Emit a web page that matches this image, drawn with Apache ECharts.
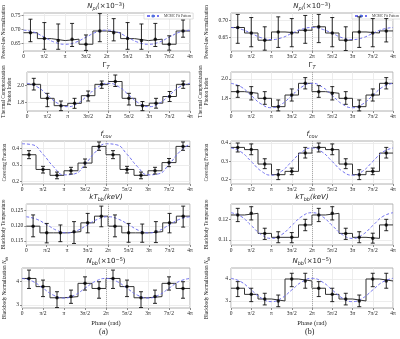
<!DOCTYPE html>
<html>
<head>
<meta charset="utf-8">
<script src="https://cdn.jsdelivr.net/npm/echarts@6/dist/echarts.min.js"></script>
<style>
  html, body { margin: 0; padding: 0; background: #fff; }
  #chart { width: 400px; height: 339px; }
</style>
</head>
<body>
<div id="chart"></div>
<script>
// phase axis is in units of pi: 0 .. 4
const phaseLabels = ['0', 'π/2', 'π', '3π/2', '2π', '5π/2', '3π', '7π/2', '4π']
// 6 phase bins per cycle, folded twice
const binEdges = [0, 1, 2, 3, 4, 5, 6, 7, 8, 9, 10, 11, 12].map(k => k / 3)
const binCenters = [1, 3, 5, 7, 9, 11, 13, 15, 17, 19, 21, 23].map(k => k / 6)
const fitPhase = [0, 1, 2, 3, 4, 5, 6, 7, 8, 9, 10, 11, 12, 13, 14, 15, 16].map(k => k / 4)

// ---- (a) ----
const aNplVal = [0.688, 0.667, 0.660, 0.665, 0.647, 0.694, 0.688, 0.667, 0.660, 0.665, 0.647, 0.694]
const aNplLo = [0.656, 0.629, 0.629, 0.639, 0.625, 0.656, 0.659, 0.629, 0.629, 0.639, 0.626, 0.672]
const aNplHi = [0.736, 0.724, 0.719, 0.721, 0.680, 0.756, 0.738, 0.724, 0.719, 0.721, 0.677, 0.733]
const aNplFit = [0.697, 0.690, 0.672, 0.654, 0.647, 0.654, 0.672, 0.690, 0.697, 0.690, 0.672, 0.654, 0.647, 0.654, 0.672, 0.690, 0.697]
const aNplTicks = [0.65, 0.70, 0.75]

const aGamVal = [2.016, 1.848, 1.760, 1.788, 1.880, 2.016, 2.050, 1.848, 1.760, 1.790, 1.870, 2.016]
const aGamLo = [1.948, 1.748, 1.700, 1.728, 1.816, 1.968, 1.990, 1.768, 1.700, 1.730, 1.810, 1.968]
const aGamHi = [2.088, 1.908, 1.816, 1.848, 1.936, 2.056, 2.128, 1.908, 1.810, 1.848, 1.930, 2.056]
const aGamFit = [2.028, 1.987, 1.888, 1.789, 1.748, 1.789, 1.888, 1.987, 2.028, 1.987, 1.888, 1.789, 1.748, 1.789, 1.888, 1.987, 2.028]
const aGamTicks = [1.8, 2.0]

const aCovVal = [0.363, 0.273, 0.237, 0.265, 0.312, 0.414, 0.363, 0.273, 0.237, 0.265, 0.315, 0.414]
const aCovLo = [0.339, 0.251, 0.216, 0.245, 0.286, 0.390, 0.339, 0.251, 0.216, 0.245, 0.290, 0.390]
const aCovHi = [0.388, 0.292, 0.257, 0.286, 0.337, 0.441, 0.388, 0.292, 0.257, 0.286, 0.340, 0.441]
const aCovFit = [0.430, 0.424, 0.366, 0.290, 0.240, 0.246, 0.304, 0.380, 0.430, 0.424, 0.366, 0.290, 0.240, 0.246, 0.304, 0.380, 0.430]
const aCovTicks = [0.2, 0.3, 0.4]

const aKtVal = [0.1199, 0.1177, 0.1177, 0.1181, 0.1210, 0.1232, 0.1199, 0.1177, 0.1177, 0.1181, 0.1210, 0.1232]
const aKtLo = [0.1164, 0.1144, 0.1148, 0.1142, 0.1177, 0.1197, 0.1164, 0.1146, 0.1146, 0.1145, 0.1177, 0.1196]
const aKtHi = [0.1236, 0.1208, 0.1203, 0.1214, 0.1241, 0.1265, 0.1236, 0.1208, 0.1206, 0.1214, 0.1241, 0.1265]
const aKtFit = [0.1230, 0.1222, 0.1204, 0.1185, 0.1177, 0.1185, 0.1204, 0.1222, 0.1230, 0.1222, 0.1204, 0.1185, 0.1177, 0.1185, 0.1204, 0.1222, 0.1230]
const aKtTicks = [0.115, 0.120, 0.125]

const aNbbVal = [4.14, 3.79, 3.31, 3.36, 3.93, 3.71, 4.14, 3.79, 3.31, 3.36, 3.93, 3.71]
const aNbbLo = [3.71, 3.36, 2.89, 3.07, 3.64, 3.29, 3.71, 3.36, 2.89, 3.07, 3.64, 3.29]
const aNbbHi = [4.50, 4.07, 3.57, 3.64, 4.21, 4.00, 4.50, 4.07, 3.57, 3.64, 4.21, 4.00]
const aNbbFit = [4.14, 4.02, 3.72, 3.42, 3.30, 3.42, 3.72, 4.02, 4.14, 4.02, 3.72, 3.42, 3.30, 3.42, 3.72, 4.02, 4.14]
const aNbbTicks = [3, 4]

// ---- (b) ----
const bNplVal = [0.679, 0.663, 0.642, 0.666, 0.663, 0.671, 0.681, 0.663, 0.642, 0.666, 0.663, 0.669]
const bNplLo = [0.633, 0.623, 0.613, 0.621, 0.623, 0.633, 0.635, 0.623, 0.612, 0.621, 0.623, 0.637]
const bNplHi = [0.717, 0.708, 0.681, 0.710, 0.705, 0.714, 0.717, 0.708, 0.681, 0.710, 0.705, 0.705]
const bNplFit = [0.679, 0.674, 0.662, 0.649, 0.644, 0.649, 0.662, 0.674, 0.679, 0.674, 0.662, 0.649, 0.644, 0.649, 0.662, 0.674, 0.679]
const bNplTicks = [0.65, 0.70]

const bGamVal = [1.869, 1.852, 1.800, 1.714, 1.834, 1.955, 1.869, 1.852, 1.800, 1.714, 1.834, 1.955]
const bGamLo = [1.810, 1.783, 1.738, 1.670, 1.772, 1.897, 1.810, 1.783, 1.738, 1.670, 1.772, 1.897]
const bGamHi = [1.931, 1.921, 1.869, 1.783, 1.897, 2.014, 1.931, 1.921, 1.869, 1.783, 1.897, 2.014]
const bGamFit = [1.955, 1.918, 1.829, 1.740, 1.703, 1.740, 1.829, 1.918, 1.955, 1.918, 1.829, 1.740, 1.703, 1.740, 1.829, 1.918, 1.955]
const bGamTicks = [1.8, 2.0]

const bCovVal = [0.376, 0.364, 0.285, 0.227, 0.245, 0.345, 0.376, 0.364, 0.285, 0.227, 0.245, 0.345]
const bCovLo = [0.351, 0.336, 0.260, 0.200, 0.227, 0.318, 0.351, 0.336, 0.260, 0.200, 0.227, 0.318]
const bCovHi = [0.400, 0.395, 0.314, 0.254, 0.263, 0.376, 0.400, 0.395, 0.314, 0.254, 0.263, 0.376]
const bCovFit = [0.373, 0.351, 0.299, 0.246, 0.224, 0.246, 0.299, 0.351, 0.373, 0.351, 0.299, 0.246, 0.224, 0.246, 0.299, 0.351, 0.373]
const bCovTicks = [0.2, 0.3, 0.4]

const bKtVal = [0.1221, 0.1229, 0.1132, 0.1113, 0.1113, 0.1173, 0.1221, 0.1229, 0.1132, 0.1113, 0.1108, 0.1173]
const bKtLo = [0.1189, 0.1197, 0.1103, 0.1087, 0.1087, 0.1145, 0.1189, 0.1197, 0.1103, 0.1087, 0.1085, 0.1145]
const bKtHi = [0.1253, 0.1261, 0.1157, 0.1140, 0.1136, 0.1200, 0.1253, 0.1261, 0.1157, 0.1140, 0.1133, 0.1200]
const bKtFit = [0.1232, 0.1214, 0.1170, 0.1126, 0.1108, 0.1126, 0.1170, 0.1214, 0.1232, 0.1214, 0.1170, 0.1126, 0.1108, 0.1126, 0.1170, 0.1214, 0.1232]
const bKtTicks = [0.11, 0.12]

const bNbbVal = [3.58, 3.30, 3.09, 3.00, 4.00, 3.91, 3.58, 3.30, 3.09, 3.00, 4.00, 3.91]
const bNbbLo = [3.20, 2.97, 2.82, 2.74, 3.65, 3.58, 3.20, 2.97, 2.82, 2.74, 3.65, 3.58]
const bNbbHi = [3.88, 3.58, 3.35, 3.27, 4.26, 4.26, 3.88, 3.58, 3.35, 3.27, 4.26, 4.26]
const bNbbFit = [4.03, 3.87, 3.50, 3.13, 2.97, 3.13, 3.50, 3.87, 4.03, 3.87, 3.50, 3.13, 2.97, 3.13, 3.50, 3.87, 4.03]
const bNbbTicks = [3, 4]

// ---- layout ----
const colLeft = [22, 231]
const colWidth = [168, 162]
const rowTop = [13, 72, 141, 204, 268]
const rowHeight = [38, 39, 43, 41, 40]
const nameGaps = [14, 21]

const serif = 'Liberation Serif'
const tFont = { fontFamily: 'DejaVu Sans', fontWeight: 'normal', color: '#222' }
const titleRich = {
  i: Object.assign({ fontStyle: 'italic', fontSize: 7 }, tFont),
  r: Object.assign({ fontSize: 7 }, tFont),
  sub: Object.assign({ fontStyle: 'italic', fontSize: 5, padding: [4, 0, 0, 0] }, tFont),
  sup: Object.assign({ fontSize: 5, padding: [0, 0, 4, 0] }, tFont)
}
const titles = [
  '{i|N}{sub|pl}{r|(×10}{sup|−3}{r|)}',
  '{r|Γ}{sub|T}',
  '{i|f}{sub|cov}',
  '{i|kT}{sub|bb}{i|(keV)}',
  '{i|N}{sub|bb}{r|(×10}{sup|−5}{r|)}'
]
const yNames = [
  'Power-law Normalization',
  'Thermal Comptonization\nPhoton Index',
  'Covering Fraction',
  'Blackbody Temperature',
  'Blackbody Normalization {ni|N}{ns|bb}'
]

const panels = [
  { val: aNplVal, lo: aNplLo, hi: aNplHi, fit: aNplFit, ticks: aNplTicks, min: 0.623, max: 0.758, dec: 2 },
  { val: aGamVal, lo: aGamLo, hi: aGamHi, fit: aGamFit, ticks: aGamTicks, min: 1.696, max: 2.164, dec: 1 },
  { val: aCovVal, lo: aCovLo, hi: aCovHi, fit: aCovFit, ticks: aCovTicks, min: 0.184, max: 0.447, dec: 1 },
  { val: aKtVal, lo: aKtLo, hi: aKtHi, fit: aKtFit, ticks: aKtTicks, min: 0.1137, max: 0.1272, dec: 3 },
  { val: aNbbVal, lo: aNbbLo, hi: aNbbHi, fit: aNbbFit, ticks: aNbbTicks, min: 2.87, max: 4.59, dec: 0 },
  { val: bNplVal, lo: bNplLo, hi: bNplHi, fit: bNplFit, ticks: bNplTicks, min: 0.6106, max: 0.7212, dec: 2 },
  { val: bGamVal, lo: bGamLo, hi: bGamHi, fit: bGamFit, ticks: bGamTicks, min: 1.669, max: 2.072, dec: 1 },
  { val: bCovVal, lo: bCovLo, hi: bCovHi, fit: bCovFit, ticks: bCovTicks, min: 0.176, max: 0.411, dec: 1 },
  { val: bKtVal, lo: bKtLo, hi: bKtHi, fit: bKtFit, ticks: bKtTicks, min: 0.1076, max: 0.1274, dec: 2 },
  { val: bNbbVal, lo: bNbbLo, hi: bNbbHi, fit: bNbbFit, ticks: bNbbTicks, min: 2.68, max: 4.50, dec: 0 }
]

function errorBar(params, api) {
  const x = api.value(0)
  const lo = api.coord([x, api.value(1)])
  const hi = api.coord([x, api.value(2)])
  const cap = 2
  const style = { stroke: '#111', lineWidth: 0.9 }
  return {
    type: 'group',
    children: [
      { type: 'line', shape: { x1: lo[0], y1: lo[1], x2: hi[0], y2: hi[1] }, style },
      { type: 'line', shape: { x1: lo[0] - cap, y1: lo[1], x2: lo[0] + cap, y2: lo[1] }, style },
      { type: 'line', shape: { x1: hi[0] - cap, y1: hi[1], x2: hi[0] + cap, y2: hi[1] }, style }
    ]
  }
}

const grid = [], xAxis = [], yAxis = [], series = [], title = []

panels.forEach((p, i) => {
  const col = i < 5 ? 0 : 1
  const row = i % 5
  grid.push({
    left: colLeft[col], top: rowTop[row], width: colWidth[col], height: rowHeight[row],
    show: true, borderColor: '#b0b0b0', borderWidth: 1
  })
  title.push({
    text: titles[row],
    left: colLeft[col] + colWidth[col] / 2,
    top: rowTop[row] - 11,
    textAlign: 'center',
    padding: 0,
    textStyle: { fontWeight: 'normal', rich: titleRich }
  })
  xAxis.push({
    gridIndex: i, type: 'value', min: 0, max: 4, interval: 0.5,
    name: row === 4 ? 'Phase (rad)' : '',
    nameLocation: 'middle', nameGap: 12,
    nameTextStyle: { fontFamily: serif, fontSize: 6.5, color: '#222' },
    axisLine: { show: false },
    axisTick: { show: true, length: 2, lineStyle: { color: '#888' } },
    axisLabel: {
      formatter: v => phaseLabels[Math.round(v * 2)],
      fontFamily: serif, fontSize: 5.5, color: '#222', margin: 3
    },
    splitLine: { show: true, lineStyle: { color: '#e8e8e8', width: 0.8 } }
  })
  yAxis.push({
    gridIndex: i, type: 'value', min: p.min, max: p.max,
    name: yNames[row], nameLocation: 'middle', nameGap: nameGaps[col], nameRotate: 90,
    nameTextStyle: {
      fontFamily: serif, fontSize: 5.2, lineHeight: 6, color: '#222',
      rich: {
        ni: { fontFamily: serif, fontStyle: 'italic', fontSize: 5.2, color: '#222' },
        ns: { fontFamily: serif, fontStyle: 'italic', fontSize: 3.8, color: '#222', padding: [3, 0, 0, 0] }
      }
    },
    axisLine: { show: false },
    axisTick: { show: true, length: 2, lineStyle: { color: '#888' }, customValues: p.ticks },
    axisLabel: {
      customValues: p.ticks,
      formatter: v => v.toFixed(p.dec),
      fontFamily: serif, fontSize: 5.5, color: '#222', margin: 3
    },
    splitLine: { show: true, lineStyle: { color: '#e8e8e8', width: 0.8 } }
  })

  const stepData = binEdges.map((x, k) => [x, p.val[Math.min(k, p.val.length - 1)]])
  series.push({
    name: row === 0 ? 'MCMC Fit Pattern' : 'fit' + i,
    type: 'line', xAxisIndex: i, yAxisIndex: i, smooth: 0.5, symbol: 'none', silent: true,
    data: fitPhase.map((x, k) => [x, p.fit[k]]),
    lineStyle: { color: '#7272f0', width: 1, type: [3, 2] },
    z: 3
  })
  series.push({
    name: 'step' + i, type: 'line', xAxisIndex: i, yAxisIndex: i, step: 'end', symbol: 'none', silent: true,
    data: stepData,
    lineStyle: { color: '#333', width: 1 },
    markLine: {
      silent: true, symbol: 'none', label: { show: false },
      lineStyle: { color: '#aaa', type: 'dotted', width: 1 },
      data: [{ xAxis: 2 }]
    },
    z: 2
  })
  series.push({
    name: 'err' + i, type: 'custom', xAxisIndex: i, yAxisIndex: i, silent: true,
    renderItem: errorBar,
    encode: { x: 0, y: [1, 2] },
    data: binCenters.map((x, k) => [x, p.lo[k], p.hi[k]]),
    z: 4
  })
  series.push({
    name: 'pts' + i, type: 'scatter', xAxisIndex: i, yAxisIndex: i, silent: true,
    symbol: 'circle', symbolSize: 3.5,
    itemStyle: { color: '#000' },
    data: binCenters.map((x, k) => [x, p.val[k]]),
    z: 5
  })
})

const legendBase = {
  data: ['MCMC Fit Pattern'], top: 13, orient: 'horizontal',
  itemWidth: 12, itemHeight: 4, padding: [1, 2], itemGap: 2,
  borderColor: '#ccc', borderWidth: 0.6, backgroundColor: '#fff',
  textStyle: { fontFamily: serif, fontSize: 3.6, color: '#333' }
}

const chart = echarts.init(document.getElementById('chart'))
chart.setOption({
  animation: false,
  backgroundColor: '#fff',
  title,
  legend: [
    Object.assign({}, legendBase, { left: 144 }),
    Object.assign({}, legendBase, { left: 352 })
  ],
  grid, xAxis, yAxis, series,
  graphic: [
    { type: 'text', left: 99, top: 328, style: { text: '(a)', font: '8px "Liberation Serif"', fill: '#222' } },
    { type: 'text', left: 305, top: 328, style: { text: '(b)', font: '8px "Liberation Serif"', fill: '#222' } }
  ]
})
</script>
</body>
</html>
